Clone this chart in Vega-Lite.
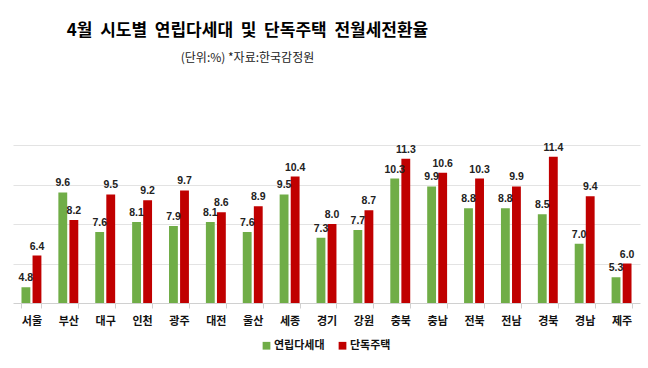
{
  "$schema": "https://vega.github.io/schema/vega-lite/v6.json",
  "autosize": {"type": "none"},
  "width": 627,
  "height": 158,
  "padding": {"left": 13, "top": 145, "right": 8, "bottom": 65},
  "background": "white",
  "title": {
    "text": "4월 \u00a0시도별 \u00a0연립다세대 \u00a0및 \u00a0단독주택 \u00a0전월세전환율",
    "subtitle": "(단위:%) *자료:한국감정원",
    "anchor": "middle",
    "dx": -79,
    "offset": 78,
    "font": "Noto Sans CJK KR",
    "fontSize": 17,
    "fontWeight": "bold",
    "color": "#000000",
    "subtitleFont": "Noto Sans CJK KR",
    "subtitleFontSize": 12,
    "subtitleColor": "#222222",
    "subtitlePadding": 13
  },
  "config": {"view": {"stroke": null}},
  "data": {
    "values": [
      {"region": "서울", "type": "연립다세대", "value": 4.8},
      {"region": "서울", "type": "단독주택", "value": 6.4},
      {"region": "부산", "type": "연립다세대", "value": 9.6},
      {"region": "부산", "type": "단독주택", "value": 8.2},
      {"region": "대구", "type": "연립다세대", "value": 7.6},
      {"region": "대구", "type": "단독주택", "value": 9.5},
      {"region": "인천", "type": "연립다세대", "value": 8.1},
      {"region": "인천", "type": "단독주택", "value": 9.2},
      {"region": "광주", "type": "연립다세대", "value": 7.9},
      {"region": "광주", "type": "단독주택", "value": 9.7},
      {"region": "대전", "type": "연립다세대", "value": 8.1},
      {"region": "대전", "type": "단독주택", "value": 8.6},
      {"region": "울산", "type": "연립다세대", "value": 7.6},
      {"region": "울산", "type": "단독주택", "value": 8.9},
      {"region": "세종", "type": "연립다세대", "value": 9.5},
      {"region": "세종", "type": "단독주택", "value": 10.4},
      {"region": "경기", "type": "연립다세대", "value": 7.3},
      {"region": "경기", "type": "단독주택", "value": 8.0},
      {"region": "강원", "type": "연립다세대", "value": 7.7},
      {"region": "강원", "type": "단독주택", "value": 8.7},
      {"region": "충북", "type": "연립다세대", "value": 10.3},
      {"region": "충북", "type": "단독주택", "value": 11.3},
      {"region": "충남", "type": "연립다세대", "value": 9.9},
      {"region": "충남", "type": "단독주택", "value": 10.6},
      {"region": "전북", "type": "연립다세대", "value": 8.8},
      {"region": "전북", "type": "단독주택", "value": 10.3},
      {"region": "전남", "type": "연립다세대", "value": 8.8},
      {"region": "전남", "type": "단독주택", "value": 9.9},
      {"region": "경북", "type": "연립다세대", "value": 8.5},
      {"region": "경북", "type": "단독주택", "value": 11.4},
      {"region": "경남", "type": "연립다세대", "value": 7.0},
      {"region": "경남", "type": "단독주택", "value": 9.4},
      {"region": "제주", "type": "연립다세대", "value": 5.3},
      {"region": "제주", "type": "단독주택", "value": 6.0}
    ]
  },
  "encoding": {
    "x": {
      "field": "region",
      "type": "nominal",
      "sort": null,
      "scale": {"paddingInner": 0.46, "paddingOuter": 0.23},
      "axis": {
        "title": null,
        "labelAngle": 0,
        "labelFont": "Noto Sans CJK KR",
        "labelFontSize": 11,
        "labelFontWeight": "bold",
        "labelColor": "#111111",
        "labelPadding": 7,
        "domainColor": "#d0d0d0",
        "tickColor": "#d0d0d0",
        "tickSize": 5,
        "tickBand": "extent"
      }
    },
    "xOffset": {
      "field": "type",
      "type": "nominal",
      "sort": ["연립다세대", "단독주택"],
      "scale": {"paddingInner": 0.2}
    },
    "y": {
      "field": "value",
      "type": "quantitative",
      "scale": {"domain": [4, 12], "nice": false, "zero": false},
      "axis": {
        "title": null,
        "labels": false,
        "ticks": false,
        "domain": false,
        "values": [6, 8, 10, 12],
        "gridColor": "#e3e3e3"
      }
    }
  },
  "layer": [
    {
      "mark": {"type": "bar", "clip": true},
      "encoding": {
        "color": {
          "field": "type",
          "type": "nominal",
          "sort": ["연립다세대", "단독주택"],
          "scale": {"domain": ["연립다세대", "단독주택"], "range": ["#70ad47", "#c00000"]},
          "legend": {
            "title": null,
            "orient": "none",
            "direction": "horizontal",
            "legendX": 248,
            "legendY": 195,
            "symbolType": "square",
            "symbolSize": 60,
            "symbolStrokeWidth": 0,
            "labelFont": "Noto Sans CJK KR",
            "labelFontSize": 11,
            "labelFontWeight": "bold",
            "labelColor": "#111111",
            "labelOffset": 2,
            "columnPadding": 12
          }
        }
      }
    },
    {
      "mark": {
        "type": "text",
        "baseline": "bottom",
        "dy": -4,
        "font": "Liberation Sans",
        "fontSize": 10.5,
        "fontWeight": "bold",
        "color": "#222222"
      },
      "encoding": {
        "text": {"field": "value", "type": "quantitative", "format": ".1f"}
      }
    }
  ]
}
